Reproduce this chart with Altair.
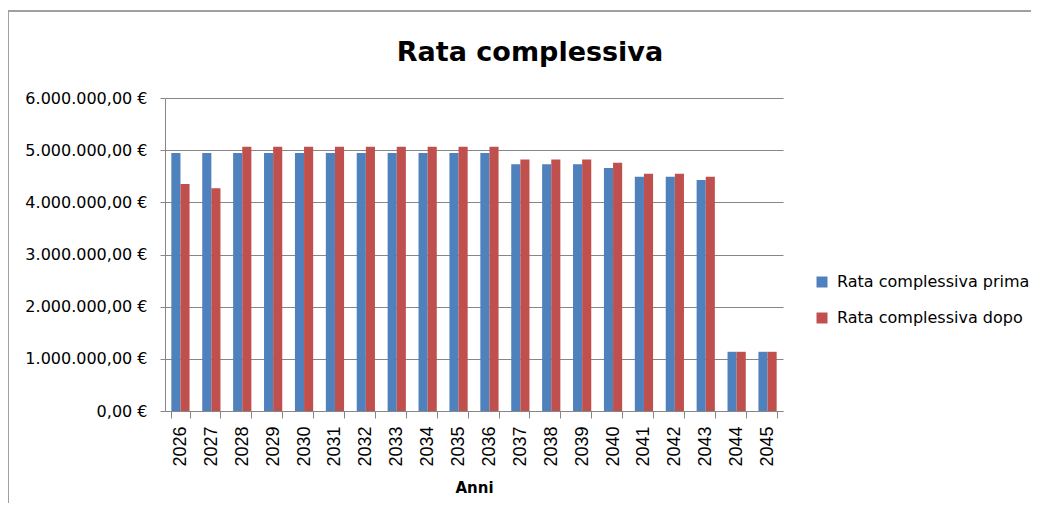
import altair as alt
import pandas as pd

years = [str(y) for y in range(2026, 2046)]
series = ["Rata complessiva prima", "Rata complessiva dopo"]
colors = ["#4F81BD", "#C0504D"]

prima = [4945000, 4945000, 4945000, 4945000, 4945000, 4945000, 4945000, 4945000,
         4945000, 4945000, 4945000, 4730000, 4730000, 4730000, 4660000, 4490000,
         4490000, 4430000, 1135000, 1135000]
dopo = [4350000, 4270000, 5065000, 5065000, 5065000, 5065000, 5065000, 5065000,
        5065000, 5065000, 5065000, 4820000, 4820000, 4820000, 4760000, 4550000,
        4550000, 4490000, 1135000, 1135000]

y_ticks = [0, 1000000, 2000000, 3000000, 4000000, 5000000, 6000000]

rows = []
for i, yr in enumerate(years):
    rows.append({"anno": yr, "serie": series[0], "valore": prima[i]})
    rows.append({"anno": yr, "serie": series[1], "valore": dopo[i]})
df = pd.DataFrame(rows)

GRAY = "#868686"

bars = alt.Chart(df).mark_bar().encode(
    x=alt.X(
        "anno:N",
        sort=years,
        scale=alt.Scale(paddingInner=0.41, paddingOuter=0.205),
        axis=alt.Axis(
            title="Anni",
            labelAngle=270,
            tickBand="extent",
            tickSize=7,
            labelPadding=8,
            labelFont="Liberation Sans",
            labelFontSize=18,
            labelColor="#000000",
            titleFont="DejaVu Sans",
            titleFontSize=15,
            titleFontWeight="bold",
            titleColor="#000000",
            titlePadding=14,
            grid=False,
        ),
    ),
    xOffset=alt.XOffset("serie:N", sort=series),
    y=alt.Y(
        "valore:Q",
        scale=alt.Scale(domain=[0, 6000000]),
        axis=alt.Axis(
            title=None,
            values=y_ticks,
            labelExpr="replace(format(datum.value, ','), regexp(',', 'g'), '.') + ',00 €'",
            tickSize=5,
            labelPadding=13,
            labelFont="DejaVu Sans",
            labelFontSize=16,
            labelColor="#000000",
            grid=True,
            gridColor=GRAY,
            gridOpacity=1,
        ),
    ),
    color=alt.Color(
        "serie:N",
        sort=series,
        scale=alt.Scale(domain=series, range=colors),
        legend=alt.Legend(
            title=None,
            orient="none",
            legendX=649,
            legendY=176,
            symbolType="square",
            symbolSize=121,
            symbolStrokeWidth=0,
            labelFont="DejaVu Sans",
            labelFontSize=16,
            labelColor="#000000",
            labelOffset=7,
            labelLimit=400,
            rowPadding=20,
        ),
    ),
)

one = pd.DataFrame({"k": [0]})
border_left = alt.Chart(one).mark_rule(color="#A0A0A0", strokeWidth=2).encode(
    x=alt.value(-157), y=alt.value(-87), y2=alt.value(420)
)
border_top = alt.Chart(one).mark_rule(color="#A0A0A0", strokeWidth=2).encode(
    x=alt.value(-157), x2=alt.value(900), y=alt.value(-87)
)

chart = alt.layer(bars, border_left, border_top).properties(
    width=618,
    height=313,
    padding={"left": 157, "top": 90, "right": 248, "bottom": 92},
    autosize=alt.AutoSizeParams(type="none"),
    background="white",
    title=alt.TitleParams(
        "Rata complessiva",
        font="DejaVu Sans",
        fontSize=27,
        fontWeight="bold",
        color="#000000",
        anchor="middle",
        frame="group",
        dx=56,
        offset=-57,
    ),
).configure_axis(
    domainColor=GRAY, tickColor=GRAY
).configure_view(strokeWidth=0)

chart.save("out.html", embed_options={"renderer": "svg", "actions": False})
